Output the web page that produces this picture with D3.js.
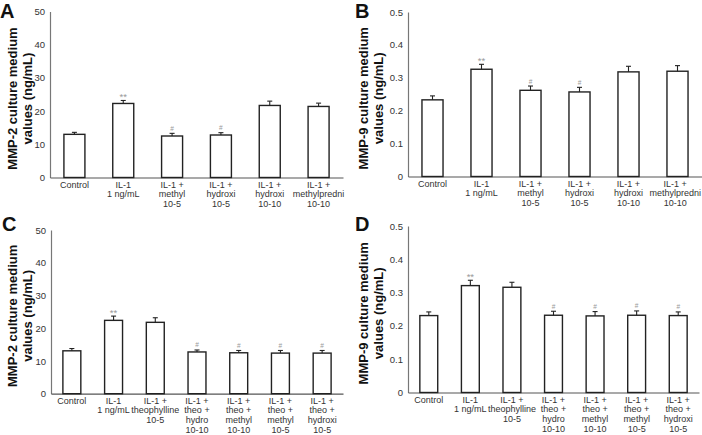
<!DOCTYPE html>
<html>
<head>
<meta charset="utf-8">
<script src="https://cdn.jsdelivr.net/npm/d3@7"></script>
<style>
  html, body { margin: 0; padding: 0; background: #fff; }
  svg { display: block; font-family: "Liberation Sans", Arial, sans-serif; }
</style>
</head>
<body>
<svg id="chart" width="702" height="435"></svg>
<script>
// ---------------- data ----------------
const categoriesAB = [
  ["Control"],
  ["IL-1", "1 ng/mL"],
  ["IL-1 +", "methyl", "10-5"],
  ["IL-1 +", "hydroxi", "10-5"],
  ["IL-1 +", "hydroxi", "10-10"],
  ["IL-1 +", "methylpredni", "10-10"]
];
const categoriesCD = [
  ["Control"],
  ["IL-1", "1 ng/mL"],
  ["IL-1 +", "theophylline", "10-5"],
  ["IL-1 +", "theo +", "hydro", "10-10"],
  ["IL-1 +", "theo +", "methyl", "10-10"],
  ["IL-1 +", "theo +", "methyl", "10-5"],
  ["IL-1 +", "theo +", "hydroxi", "10-5"]
];

const valuesA = [13.0, 22.3, 12.5, 12.8, 21.7, 21.4];
const errorsA = [0.6, 0.9, 0.8, 0.7, 1.3, 1.0];
const marksA  = ["", "**", "#", "#", "", ""];

const valuesB = [0.233, 0.326, 0.262, 0.257, 0.318, 0.320];
const errorsB = [0.012, 0.015, 0.013, 0.014, 0.017, 0.017];
const marksB  = ["", "**", "#", "#", "", ""];

const valuesC = [13.1, 22.4, 21.8, 12.75, 12.5, 12.4, 12.4];
const errorsC = [0.7, 1.3, 1.4, 0.6, 0.7, 0.8, 0.8];
const marksC  = ["", "**", "", "#", "#", "#", "#"];

const valuesD = [0.231, 0.321, 0.316, 0.232, 0.230, 0.232, 0.231];
const errorsD = [0.011, 0.016, 0.015, 0.012, 0.013, 0.013, 0.011];
const marksD  = ["", "**", "", "#", "#", "#", "#"];

const ticksMMP2 = [0, 10, 20, 30, 40, 50];
const ticksMMP9 = [0, 0.1, 0.2, 0.3, 0.4, 0.5];

const titleMMP2 = ["MMP-2 culture medium", "values (ng/mL)"];
const titleMMP9 = ["MMP-9 culture medium", "values (ng/mL)"];

// ---------------- drawing ----------------
const svg = d3.select("#chart");
const W = 702;

function panel(opt) {
  const g = svg.append("g");
  const x = d3.scaleBand().domain(d3.range(opt.cats.length)).range([opt.x0, opt.x1]);
  const y = d3.scaleLinear().domain([0, opt.ticks[opt.ticks.length - 1]]).range([opt.yZero, opt.yTop]);
  const bw = x.bandwidth() * 0.43;

  // panel letter
  g.append("text").attr("x", opt.letterX).attr("y", opt.letterY)
    .attr("font-size", 20).attr("font-weight", "bold").attr("fill", "#111")
    .text(opt.letter);

  // y axis title
  const cy = (opt.yZero + opt.yTop) / 2 + 4;
  opt.title.forEach((t, i) => {
    g.append("text")
      .attr("transform", `translate(${opt.titleX + i * 14.5},${cy}) rotate(-90)`)
      .attr("text-anchor", "middle")
      .attr("font-size", 13).attr("font-weight", "bold").attr("fill", "#111")
      .text(t);
  });

  // y axis (line + labels, no tick marks)
  const yAxis = d3.axisLeft(y).tickValues(opt.ticks).tickSize(0).tickPadding(5)
    .tickFormat(d => d === 0 ? "0" : opt.fmt(d));
  const ya = g.append("g").attr("transform", `translate(${opt.x0},0)`).call(yAxis);
  ya.select(".domain").attr("stroke", "#777").attr("stroke-width", 1.2);
  ya.selectAll("text").attr("font-size", 9.5).attr("fill", "#333")
    .attr("font-family", "Liberation Sans, Arial, sans-serif");

  // x axis line
  const xAxis = d3.axisBottom(x).tickSize(0).tickFormat("");
  const xa = g.append("g").attr("transform", `translate(0,${opt.yZero})`).call(xAxis);
  xa.select(".domain").attr("stroke", "#555").attr("stroke-width", 1.2);

  // category labels
  opt.cats.forEach((lines, i) => {
    const t = g.append("text").attr("text-anchor", "middle")
      .attr("font-size", 9).attr("fill", "#333");
    let cx = x(i) + x.bandwidth() / 2;
    lines.forEach((s, j) => {
      t.append("tspan").attr("x", cx)
        .attr("y", opt.yZero + 10 + j * 9.7).text(s);
    });
    const bb = t.node().getBBox();
    if (bb.x + bb.width > W - 1) {
      const shift = bb.x + bb.width - (W - 1);
      t.selectAll("tspan").attr("x", cx - shift);
    }
  });

  // bars
  g.selectAll("rect.bar").data(opt.values).enter().append("rect")
    .attr("class", "bar")
    .attr("x", (d, i) => x(i) + (x.bandwidth() - bw) / 2)
    .attr("y", d => y(d))
    .attr("width", bw)
    .attr("height", d => y(0) - y(d))
    .attr("fill", "#fff").attr("stroke", "#222").attr("stroke-width", 1.4);

  // error bars (upper only)
  opt.values.forEach((v, i) => {
    const cx = x(i) + x.bandwidth() / 2;
    const top = y(v + opt.errors[i]);
    g.append("line").attr("x1", cx).attr("x2", cx).attr("y1", y(v)).attr("y2", top)
      .attr("stroke", "#222").attr("stroke-width", 1.1);
    g.append("line").attr("x1", cx - 2.5).attr("x2", cx + 2.5).attr("y1", top).attr("y2", top)
      .attr("stroke", "#222").attr("stroke-width", 1.1);
    if (opt.marks[i]) {
      const star = opt.marks[i] === "**";
      g.append("text").attr("x", cx).attr("y", top - (star ? 0 : 2.5))
        .attr("text-anchor", "middle").attr("font-size", star ? 9.5 : 6.5).attr("fill", "#999")
        .text(opt.marks[i]);
    }
  });
}

const f1 = d3.format(".1f");
const f0 = d3.format("d");

panel({ letter: "A", letterX: 0, letterY: 18, title: titleMMP2, titleX: 17,
  cats: categoriesAB, values: valuesA, errors: errorsA, marks: marksA,
  ticks: ticksMMP2, fmt: f0, x0: 50, x1: 343, yZero: 177.5, yTop: 11.5 });

panel({ letter: "B", letterX: 355, letterY: 18, title: titleMMP9, titleX: 368,
  cats: categoriesAB, values: valuesB, errors: errorsB, marks: marksB,
  ticks: ticksMMP9, fmt: f1, x0: 408, x1: 702, yZero: 176.5, yTop: 12 });

panel({ letter: "C", letterX: 2, letterY: 231, title: titleMMP2, titleX: 17,
  cats: categoriesCD, values: valuesC, errors: errorsC, marks: marksC,
  ticks: ticksMMP2, fmt: f0, x0: 51, x1: 343, yZero: 393.7, yTop: 230 });

panel({ letter: "D", letterX: 355, letterY: 231, title: titleMMP9, titleX: 368,
  cats: categoriesCD, values: valuesD, errors: errorsD, marks: marksD,
  ticks: ticksMMP9, fmt: f1, x0: 408, x1: 699, yZero: 392.5, yTop: 226 });
</script>
</body>
</html>
